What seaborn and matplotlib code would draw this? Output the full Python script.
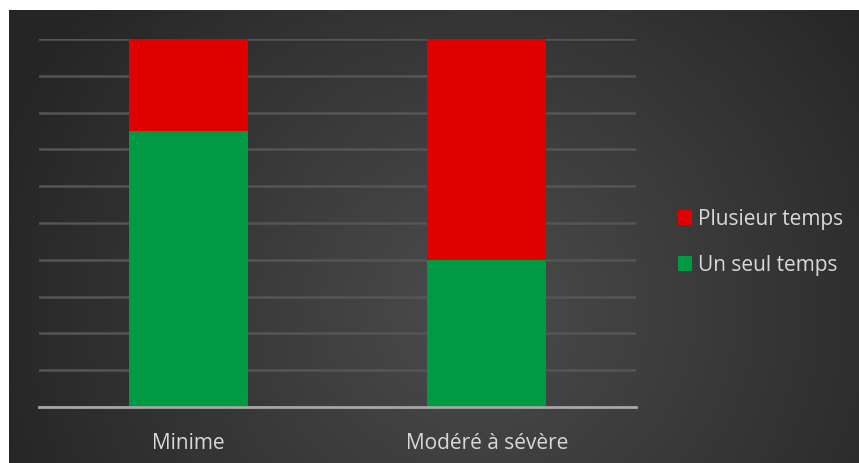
import numpy as np
import pandas as pd
import matplotlib
matplotlib.use("Agg")
import matplotlib.pyplot as plt
import seaborn as sns
from matplotlib.patches import Patch

categories = ["Minime", "Modéré à sévère"]
un_seul_temps = [75, 40]
plusieur_temps = [25, 60]
series_labels = ["Plusieur temps", "Un seul temps"]
colors = {"Plusieur temps": "#e00000", "Un seul temps": "#009a44"}

df = pd.DataFrame({"cat": categories, "green": un_seul_temps, "red": plusieur_temps})
df["total"] = df["green"] + df["red"]

sns.set_theme(style="white")
plt.rcParams["font.family"] = ["Open Sans", "DejaVu Sans"]

W, H = 859, 464
fig = plt.figure(figsize=(W / 100, H / 100), dpi=100)
fig.patch.set_facecolor("white")

# background with radial gradient
bg = fig.add_axes([9 / W, 0, (W - 9) / W, (H - 11) / H])
ny, nx = 300, 600
yy, xx = np.mgrid[0:ny, 0:nx]
cx, cy = 0.55 * nx, 0.65 * ny
r = np.sqrt(((xx - cx) / nx) ** 2 + ((yy - cy) / ny * 0.55) ** 2)
r = np.clip(r / 0.6, 0, 1)
light = np.array([0x4c, 0x4c, 0x4c]) / 255
dark = np.array([0x25, 0x25, 0x25]) / 255
img = light[None, None, :] * (1 - r[..., None]) + dark[None, None, :] * r[..., None]
bg.imshow(img, aspect="auto", extent=[0, 1, 0, 1], origin="upper")
bg.set_axis_off()

ax = fig.add_axes([39 / W, 1 - 408 / H, (636 - 39) / W, (408 - 40) / H])
ax.set_facecolor("none")
ax.patch.set_alpha(0)

sns.barplot(data=df, x="cat", y="total", color=colors["Plusieur temps"], width=0.4,
            saturation=1, linewidth=0, edgecolor="none", ax=ax, zorder=3)
sns.barplot(data=df, x="cat", y="green", color=colors["Un seul temps"], width=0.4,
            saturation=1, linewidth=0, edgecolor="none", ax=ax, zorder=4)

ax.set_ylim(0, 100)
ax.set_xlim(-0.5, 1.5)
ax.set_yticks(np.arange(0, 101, 10))
ax.yaxis.grid(True, color="#555555", linewidth=1.8, zorder=0)
ax.set_yticklabels([])
ax.tick_params(axis="y", length=0)
ax.tick_params(axis="x", length=0, pad=18, labelsize=15, labelcolor="#d9d9d9")
ax.set_xlabel("")
ax.set_ylabel("")
for s in ["top", "right", "left"]:
    ax.spines[s].set_visible(False)
ax.spines["bottom"].set_color("#a6a6a6")
ax.spines["bottom"].set_linewidth(2)
ax.spines["bottom"].set_zorder(5)

handles = [Patch(facecolor=colors[l], edgecolor="none", label=l) for l in series_labels]
leg = fig.legend(handles=handles, loc="center left", bbox_to_anchor=(659 / W, 1 - 243 / H),
                 frameon=False, fontsize=15, labelcolor="#d9d9d9",
                 handlelength=0.7, handleheight=0.7, handletextpad=0.25, labelspacing=1.2)

fig.savefig("out.png", dpi=100, facecolor="white")
